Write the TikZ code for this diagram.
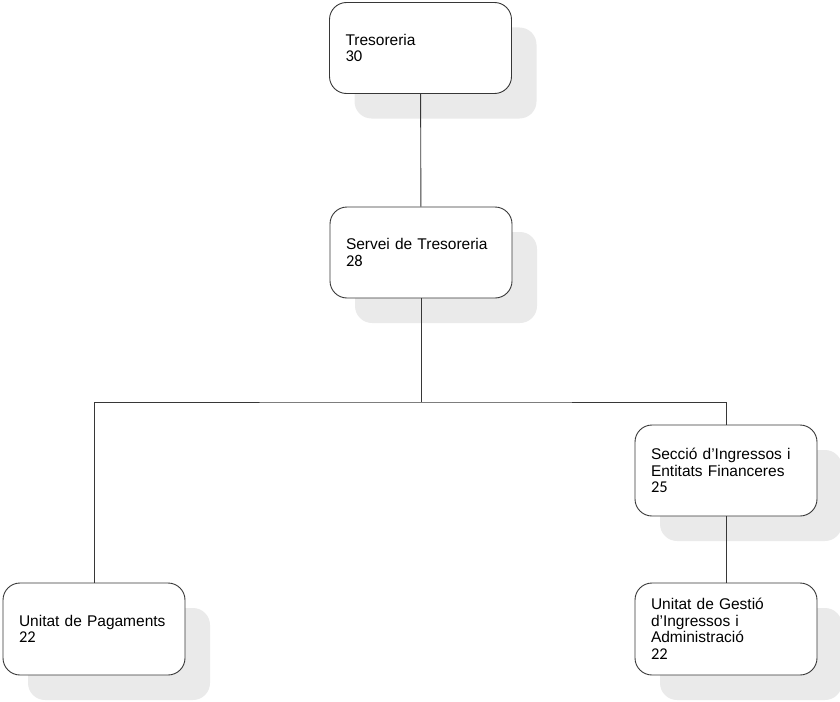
\documentclass[tikz,border=0pt]{standalone}
\usepackage{fontspec}
\setmainfont{Liberation Sans}
\newfontfamily\numfont{Carlito}
\usetikzlibrary{shadows}
\definecolor{shadowgray}{RGB}{234,234,234}
\definecolor{linegray}{RGB}{55,55,55}
\newcommand{\unum}[1]{{\numfont\fontsize{16.5}{17}\selectfont #1}}
\begin{document}
\begin{tikzpicture}[x=1pt,y=-1pt,
  unitbox/.style={draw=linegray, line width=0.9pt, fill=white, rounded corners=17pt,
    minimum width=182pt, minimum height=91pt, text width=150pt, inner xsep=16pt, inner ysep=0pt,
    align=left, font=\fontsize{15.5}{16.5}\selectfont,
    drop shadow={shadow xshift=25pt, shadow yshift=-25pt, fill=shadowgray, opacity=1}},
  link/.style={draw=linegray, line width=0.9pt}]
\useasboundingbox (0,0) rectangle (840,701);
\node[unitbox] (t) at (420.5,48) {Tresoreria\\\unum{30}};
\node[unitbox] (s) at (421,252.5) {Servei de Tresoreria\\\unum{28}};
\node[unitbox] (sec) at (726,470.5) {Secció d’Ingressos i\\Entitats Financeres\\\unum{25}};
\node[unitbox, minimum height=92pt] (p) at (94,629) {Unitat de Pagaments\\\unum{22}};
\node[unitbox, minimum height=92pt] (g) at (726,629) {Unitat de Gestió\\d’Ingressos i\\Administració\\\unum{22}};
\coordinate (jn) at (421,402);
\draw[link] (t) -- (s);
\draw[link] (s) -- (jn);
\draw[link] (p) |- (jn) -| (sec);
\draw[link] (sec) -- (g);
\end{tikzpicture}
\end{document}
